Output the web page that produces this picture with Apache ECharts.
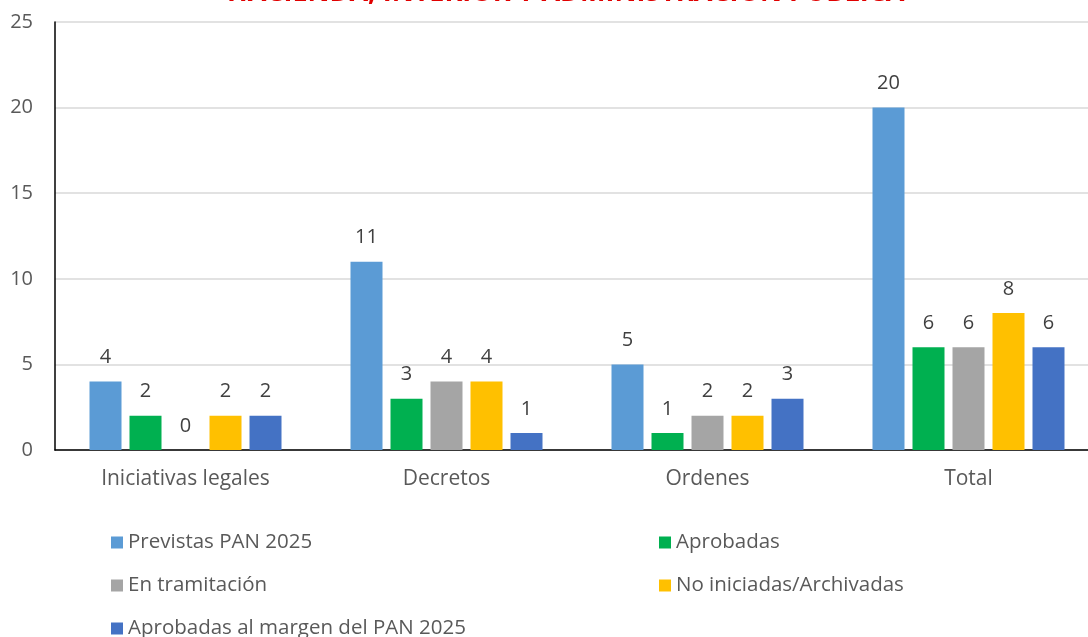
<!DOCTYPE html>
<html>
<head>
<meta charset="utf-8">
<script src="https://cdn.jsdelivr.net/npm/echarts@6/dist/echarts.min.js"></script>
<style>
html, body { margin: 0; padding: 0; background: #fff; overflow: hidden; }
/* plot area runs a little past the right edge, like the source image */
#chart { width: 1099px; height: 637px; }
</style>
</head>
<body>
<div id="chart"></div>
<script>
var categories = ['Iniciativas legales', 'Decretos', 'Ordenes', 'Total'];
var seriesNames = ['Previstas PAN 2025', 'Aprobadas', 'En tramitación', 'No iniciadas/Archivadas', 'Aprobadas al margen del PAN 2025'];
var previstas = [4, 11, 5, 20];
var aprobadas = [2, 3, 1, 6];
var tramitacion = [0, 4, 2, 6];
var noIniciadas = [2, 4, 2, 8];
var margen = [2, 1, 3, 6];
var colors = ['#5B9BD5', '#00B050', '#A5A5A5', '#FFC000', '#4472C4'];

var font = '"Open Sans", "Noto Sans", sans-serif';
var values = [previstas, aprobadas, tramitacion, noIniciadas, margen];

var series = values.map(function(v, i){
    return {
        name: seriesNames[i],
        type: 'bar',
        data: v,
        barWidth: 32,
        barGap: '25%',
        itemStyle: { color: colors[i] },
        label: {
            show: true,
            position: 'top',
            distance: 14,
            color: '#404040',
            fontSize: 20,
            fontFamily: font
        }
    };
});

// one legend per item so the two-column layout is kept
var legendSpots = [[111, 532], [659, 532], [111, 575], [659, 575], [111, 618]];
var legends = seriesNames.map(function(n, i){
    return {
        left: legendSpots[i][0],
        top: legendSpots[i][1],
        data: [n],
        itemWidth: 12,
        itemHeight: 12,
        icon: 'rect',
        padding: 0,
        textStyle: { color: '#595959', fontSize: 20.5, fontFamily: font, padding: [0, 0, 0, 0] }
    };
});

var chart = echarts.init(document.getElementById('chart'));
chart.setOption({
    animation: false,
    title: {
        text: 'HACIENDA, INTERIOR Y ADMINISTRACIÓN PÚBLICA',
        left: 222,
        top: -25,
        textStyle: { color: '#E00000', fontSize: 27, fontWeight: 'bold', fontFamily: font }
    },
    legend: legends,
    grid: { left: 55, top: 22, right: 0, bottom: 187, containLabel: false },
    xAxis: {
        type: 'category',
        data: categories,
        axisLine: { lineStyle: { color: '#000', width: 1.5 } },
        axisTick: { show: false },
        axisLabel: { color: '#595959', fontSize: 21, fontFamily: font, margin: 19 }
    },
    yAxis: {
        type: 'value',
        min: 0,
        max: 25,
        interval: 5,
        axisLine: { show: true, lineStyle: { color: '#000', width: 1.5 } },
        axisTick: { show: false },
        axisLabel: { color: '#595959', fontSize: 20, fontFamily: font, margin: 22 },
        splitLine: { lineStyle: { color: '#D9D9D9', width: 1.5 } }
    },
    series: series
});
</script>
</body>
</html>
